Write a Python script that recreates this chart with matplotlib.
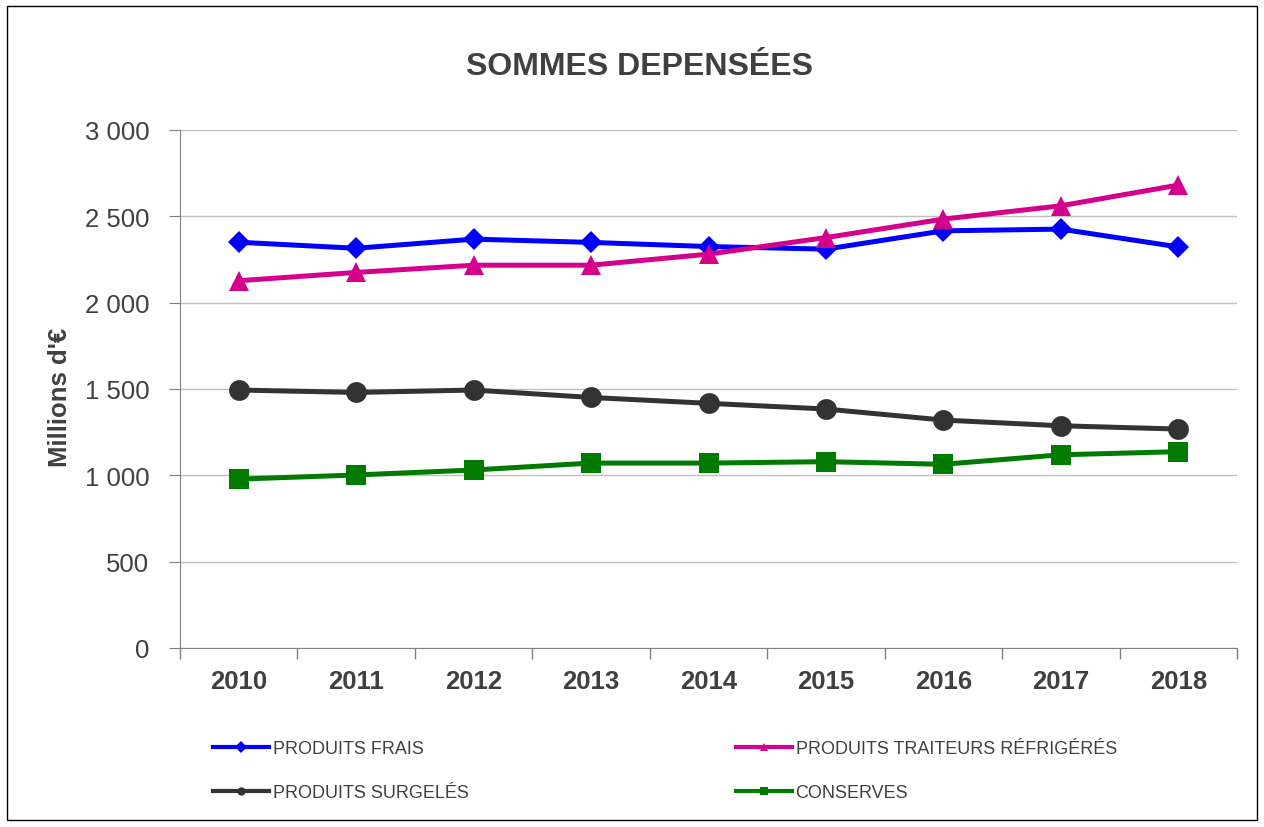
import matplotlib.pyplot as plt
from matplotlib.lines import Line2D
from matplotlib.patches import Rectangle
import matplotlib.ticker as mticker
import numpy as np

plt.rcParams['font.family'] = ['Liberation Sans', 'DejaVu Sans']

years = ['2010', '2011', '2012', '2013', '2014', '2015', '2016', '2017', '2018']
frais = [2350, 2315, 2368, 2349, 2325, 2310, 2416, 2426, 2323]
traiteurs = [2127, 2175, 2217, 2217, 2281, 2377, 2484, 2561, 2681]
surgeles = [1494, 1480, 1494, 1451, 1417, 1384, 1320, 1287, 1268]
conserves = [978, 1002, 1031, 1071, 1071, 1079, 1064, 1119, 1137]

series = [
    ('PRODUITS FRAIS', frais, '#0000FF', 'D', 11.5),
    ('PRODUITS TRAITEURS RÉFRIGÉRÉS', traiteurs, '#D4008C', '^', 15),
    ('PRODUITS SURGELÉS', surgeles, '#333333', 'o', 15),
    ('CONSERVES', conserves, '#007A00', 's', 14),
]
txt = '#404040'

fig = plt.figure(figsize=(12.64, 8.28), dpi=100)
ax = fig.add_axes([180 / 1264, 1 - 649 / 828, (1237 - 180) / 1264, (649 - 131) / 828])

x = np.arange(len(years))
for name, vals, col, mk, ms in series:
    ax.plot(x, vals, color=col, lw=3.6, marker=mk, markersize=ms,
            markeredgewidth=0, zorder=3)

ax.set_xlim(-0.5, len(years) - 0.5)
ax.set_ylim(0, 3000)
ax.yaxis.set_major_locator(mticker.MultipleLocator(500))
ax.yaxis.set_major_formatter(mticker.FuncFormatter(lambda v, p: f"{int(v):,}".replace(',', ' ')))
ax.grid(axis='y', color='#BFBFBF', lw=1)
ax.set_axisbelow(True)

ax.set_xticks(x)
ax.set_xticklabels(years, fontsize=18.5, fontweight='bold', color=txt)
ax.set_xticks(np.arange(len(years) + 1) - 0.5, minor=True)
ax.tick_params(axis='x', which='major', length=0, pad=15)
ax.tick_params(axis='x', which='minor', length=8, color='#808080', width=1)
ax.tick_params(axis='y', length=8, color='#808080', labelsize=18.5, labelcolor=txt, pad=14)

for s in ['top', 'right']:
    ax.spines[s].set_visible(False)
ax.spines['left'].set_color('#808080')
ax.spines['bottom'].set_color('#808080')

fig.text(60 / 1264, 1 - 397 / 828, "Millions d'€", rotation=90, ha='center', va='center',
         fontsize=18.5, fontweight='bold', color=txt)
fig.text(640 / 1264, 1 - 67 / 828, 'SOMMES DEPENSÉES', ha='center', va='center',
         fontsize=23, fontweight='bold', color=txt)

# legend: two columns, one small legend per entry
legend_pos = [(213, 750), (736, 750), (213, 794), (736, 794)]
for (name, vals, col, mk, ms), (lx, ly) in zip(series, legend_pos):
    h = Line2D([], [], color=col, lw=3, marker=mk, markersize=6, markeredgewidth=0)
    fig.legend([h], [name], loc='center left', bbox_to_anchor=(lx / 1264, 1 - ly / 828),
               frameon=False, fontsize=13, handlelength=3.1, handletextpad=0.2,
               borderpad=0, borderaxespad=0, labelcolor=txt)

fig.patches.append(Rectangle((7 / 1264, 7 / 828), 1250 / 1264, 814 / 828, transform=fig.transFigure,
                             fill=False, edgecolor='black', lw=1))

fig.savefig('out.png', dpi=100)
